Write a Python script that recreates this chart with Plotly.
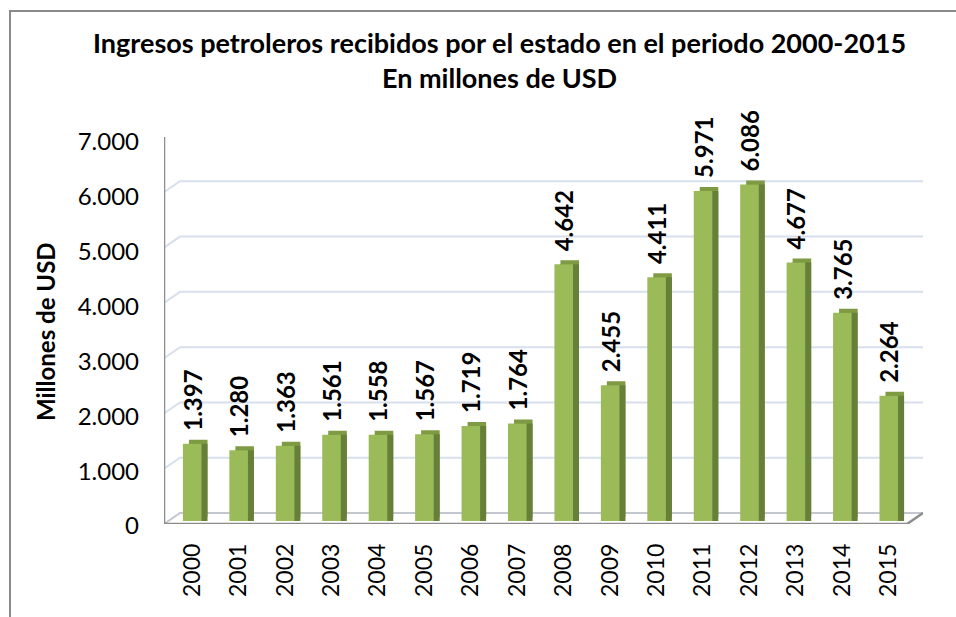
import plotly.graph_objects as go

# ---- data ----
years = ["2000", "2001", "2002", "2003", "2004", "2005", "2006", "2007",
         "2008", "2009", "2010", "2011", "2012", "2013", "2014", "2015"]
ingresos = [1397, 1280, 1363, 1561, 1558, 1567, 1719, 1764,
            4642, 2455, 4411, 5971, 6086, 4677, 3765, 2264]
y_ticks = [0, 1000, 2000, 3000, 4000, 5000, 6000, 7000]

title_text = "Ingresos petroleros recibidos por el estado en el periodo 2000-2015<br>En millones de USD"
y_title = "Millones de USD"

# ---- layout helpers (pixel -> paper) ----
W, H = 956, 617
def fx(px):
    return px / W
def fy(py):
    return 1 - py / H

YMAX = 7000
FONT = "Lato"
FRONT_COL = "#9BBB59"
TOP_COL = "#7E9B44"
SIDE_COL = "#66803A"
GRID_COL = "#D7E0EC"

fig = go.Figure()

# --- subplot 1: the 3D "box" (back wall grid, floor, front axis) ---
box_left, box_right = 164, 923          # px
front_bottom, front_top = 524, 137      # px for 0 and YMAX at the front
depth_x = 16                            # px
depth_y = 11                            # px
box_w = box_right - box_left
dyv = depth_y * YMAX / (front_bottom - front_top)

gx, gy = [], []
for v in y_ticks[1:]:
    gx += [0, depth_x, box_w, None]
    gy += [v, v + dyv, v + dyv, None]
fig.add_trace(go.Scatter(x=gx, y=gy, mode="lines", line=dict(color=GRID_COL, width=2),
                         hoverinfo="skip", showlegend=False, xaxis="x", yaxis="y"))
# back floor edge
fig.add_trace(go.Scatter(x=[0, depth_x, box_w], y=[0, dyv, dyv], mode="lines",
                         line=dict(color="#C3C8D0", width=2),
                         hoverinfo="skip", showlegend=False, xaxis="x", yaxis="y"))
# front axis + front floor edge + right diagonal
fig.add_trace(go.Scatter(x=[0, 0, box_w - depth_x, box_w], y=[YMAX, 0, 0, dyv], mode="lines",
                         line=dict(color="#8C8C8C", width=2.5),
                         hoverinfo="skip", showlegend=False, xaxis="x", yaxis="y"))

# --- bars: top face, side face, front face, labels ---
bar_left, bar_right = 169, 912
bar_bottom, bar_top = 521, 134
bw = 0.40

def add_bar(axn, dx, dy, color, text=False):
    kw = {}
    if text:
        kw = dict(texttemplate="%{y:,.0f}", textposition="outside", textangle=-90,
                  textfont=dict(family=FONT, size=24, color="black", weight="bold"),
                  constraintext="none", cliponaxis=False)
    fig.add_trace(go.Bar(x=years, y=ingresos, width=bw, marker=dict(color=color, line=dict(width=0)),
                         hoverinfo="skip", showlegend=False,
                         xaxis="x" + axn, yaxis="y" + axn, **kw))
    fig.update_layout(**{
        "xaxis" + axn: dict(domain=[fx(bar_left + dx), fx(bar_right + dx)], anchor="y" + axn,
                            type="category", range=[-0.5, len(years) - 0.5], visible=False,
                            automargin=False),
        "yaxis" + axn: dict(domain=[fy(bar_bottom - dy), fy(bar_top - dy)], anchor="x" + axn,
                            range=[0, YMAX], visible=False, automargin=False),
    })

add_bar("2", 6, 4, TOP_COL)
add_bar("3", 6, 0, SIDE_COL)
add_bar("4", 0, 0, FRONT_COL)
add_bar("5", 0, 10, "rgba(0,0,0,0)", text=True)

# front face axis shows the year labels
fig.update_layout(xaxis4=dict(visible=True, showgrid=False, showline=False, zeroline=False,
                              ticks="", tickangle=-90, ticklabelstandoff=17,
                              tickfont=dict(family=FONT, size=23, color="black")))

# value-axis labels (Excel draws them a few px lower than the front edge)
fig.add_trace(go.Scatter(x=[None], y=[None], mode="markers", hoverinfo="skip",
                         showlegend=False, xaxis="x", yaxis="y6"))
fig.update_layout(yaxis6=dict(domain=[fy(526), fy(142)], range=[0, YMAX], anchor="x",
                              showgrid=False, zeroline=False, showline=False, ticks="",
                              automargin=False, tickvals=y_ticks, tickformat=",.0f",
                              ticklabelstandoff=24,
                              tickfont=dict(family=FONT, size=24, color="black")))

fig.update_layout(
    width=W, height=H, autosize=False,
    margin=dict(l=0, r=0, t=0, b=0, pad=0, autoexpand=False),
    paper_bgcolor="white", plot_bgcolor="rgba(0,0,0,0)",
    separators=",.",
    showlegend=False,
    xaxis=dict(domain=[fx(box_left), fx(box_right)], range=[0, box_w], visible=False, anchor="y",
               automargin=False),
    yaxis=dict(domain=[fy(front_bottom), fy(front_top)], range=[0, YMAX], anchor="x",
               visible=False, automargin=False),
    annotations=[
        dict(text=title_text, x=fx(499), y=fy(60), xref="paper", yref="paper",
             xanchor="center", yanchor="middle", showarrow=False,
             font=dict(family=FONT, size=27, color="black", weight="bold")),
        dict(text=y_title, x=fx(45), y=fy(332), xref="paper", yref="paper",
             xanchor="center", yanchor="middle", showarrow=False, textangle=-90,
             font=dict(family=FONT, size=24, color="black", weight="bold")),
    ],
    shapes=[
        dict(type="rect", xref="paper", yref="paper", x0=fx(10), x1=fx(W + 5),
             y0=fy(H + 5), y1=fy(11), line=dict(color="#8A8A8A", width=2),
             fillcolor="rgba(0,0,0,0)", layer="below"),
    ],
)

page_js = (
    "var gd=document.getElementById('{plot_id}');"
    "var de=document.documentElement, bd=document.body;"
    "[de, bd].forEach(function(e){e.style.margin='0';e.style.padding='0';"
    "e.style.overflow='hidden';e.style.height='617px';e.style.width='956px';});"
    "gd.style.position='fixed';gd.style.left='0px';gd.style.top='0px';"
)

fig.write_html("out.html", config={"displayModeBar": False}, post_script=page_js)
